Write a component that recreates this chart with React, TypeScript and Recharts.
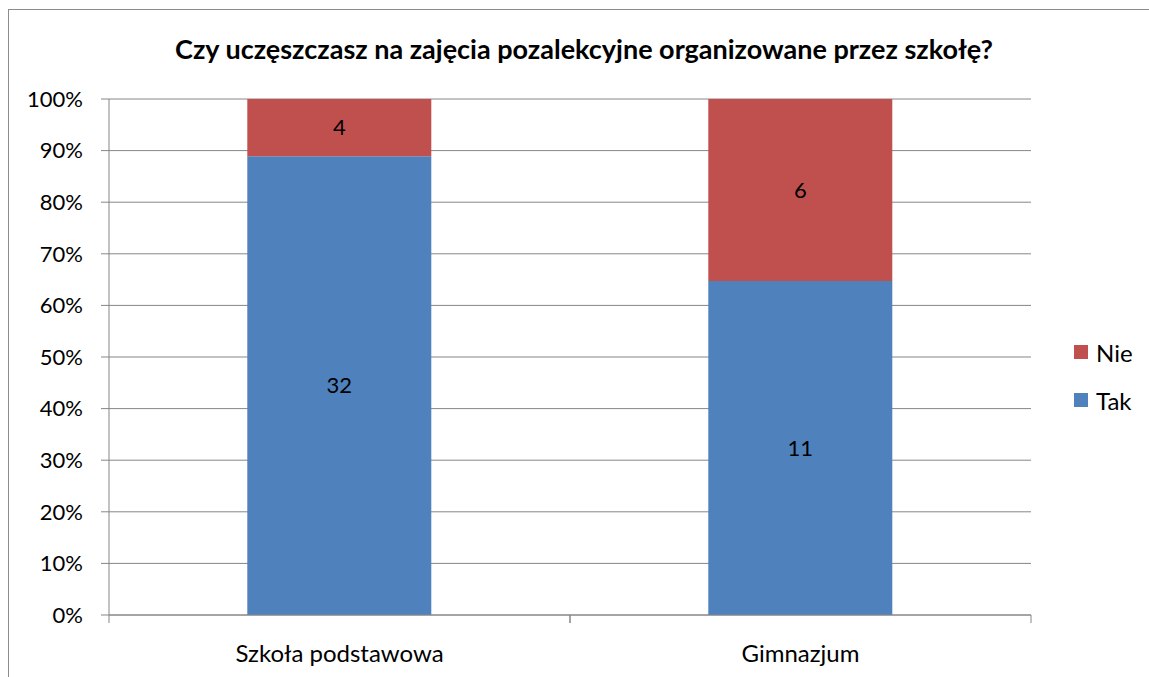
import React from 'react';
import { BarChart, Bar, XAxis, YAxis, CartesianGrid, LabelList } from 'recharts';

const title = 'Czy uczęszczasz na zajęcia pozalekcyjne organizowane przez szkołę?';
const categories = ['Szkoła podstawowa', 'Gimnazjum'];
const takValues = [32, 11];
const nieValues = [4, 6];
const yTicks = [0, 0.1, 0.2, 0.3, 0.4, 0.5, 0.6, 0.7, 0.8, 0.9, 1];
const seriesNames = ['Tak', 'Nie'];
const seriesColors = ['#4F81BD', '#C0504D'];

const data = categories.map((name, i) => ({ name, Tak: takValues[i], Nie: nieValues[i] }));

const FONT = "Lato, 'Open Sans', sans-serif";
const GRID = '#868686';

const XTick = (props: any) => {
  const { x, y, payload } = props;
  const off = payload && payload.offset ? payload.offset : 0;
  return (
    <g>
      <line x1={x - off} x2={x - off} y1={y} y2={y + 8} stroke={GRID} strokeWidth={1} />
      <line x1={x + off} x2={x + off} y1={y} y2={y + 8} stroke={GRID} strokeWidth={1} />
      <text x={x} y={y + 37} textAnchor="middle" dominantBaseline="central" fontFamily={FONT} fontSize={24} fill="#000">
        {payload.value}
      </text>
    </g>
  );
};

export default function App() {
  const legendItems = seriesNames.map((n, i) => ({ name: n, color: seriesColors[i] })).reverse();
  return (
    <div style={{ position: 'relative', width: 1149, height: 677, overflow: 'hidden', background: '#fff' }}>
      <style>{`html,body{overflow:hidden;margin:0;padding:0;background:#fff}`}</style>
      <div style={{ position: 'absolute', left: 8, top: 9, width: 1300, height: 800, borderTop: '1px solid #8c8c8c', borderLeft: '1px solid #8c8c8c' }}>
        <div style={{ position: 'absolute', left: 0, top: 22, width: 1150, textAlign: 'center', fontFamily: FONT, fontWeight: 'bold', fontSize: 27, color: '#000', zIndex: 2, whiteSpace: 'nowrap' }}>
          {title}
        </div>
        <div style={{ position: 'absolute', left: 1065, top: 318, fontFamily: FONT, fontSize: 24, color: '#000', zIndex: 2 }}>
          {legendItems.map((it) => (
            <div key={it.name} style={{ display: 'flex', alignItems: 'center', height: 48 }}>
              <div style={{ width: 14, height: 14, background: it.color, marginRight: 8 }} />
              <span>{it.name}</span>
            </div>
          ))}
        </div>
        <BarChart
          width={1140}
          height={667}
          data={data}
          stackOffset="expand"
          barCategoryGap="30%"
          margin={{ top: 89, right: 118, bottom: 22, left: 0 }}
        >
          <CartesianGrid vertical={false} stroke={GRID} strokeWidth={1} />
          <XAxis
            dataKey="name"
            axisLine={{ stroke: GRID }}
            tickLine={false}
            tickSize={0}
            tickMargin={0}
            height={40}
            tick={<XTick />}
            interval={0}
          />
          <YAxis
            width={100}
            domain={[0, 1]}
            ticks={yTicks}
            tickFormatter={(v: number) => `${Math.round(v * 100)}%`}
            axisLine={{ stroke: GRID }}
            tickLine={{ stroke: GRID }}
            tickSize={8}
            tickMargin={18}
            tick={{ fontFamily: FONT, fontSize: 22, fill: '#000' }}
          />
          {seriesNames.map((s, i) => (
            <Bar key={s} dataKey={s} stackId="a" fill={seriesColors[i]} isAnimationActive={false}>
              <LabelList dataKey={s} position="center" fill="#000" fontFamily={FONT} fontSize={22} />
            </Bar>
          ))}
        </BarChart>
      </div>
    </div>
  );
}
